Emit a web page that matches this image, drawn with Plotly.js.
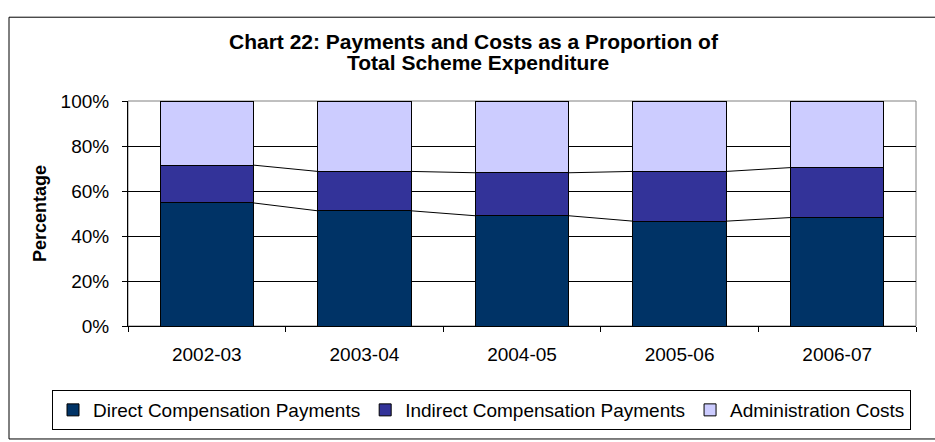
<!DOCTYPE html>
<html>
<head>
<meta charset="utf-8">
<script src="https://cdn.plot.ly/plotly-3.0.1.min.js"></script>
<style>
html,body{margin:0;padding:0;background:#fff;}
#chart{width:935px;height:442px;}
</style>
</head>
<body>
<div id="chart"></div>
<script>
// ---- data ----
var categories = ['2002-03', '2003-04', '2004-05', '2005-06', '2006-07'];
var directPayments = [54.7, 51.2, 49.0, 46.6, 48.2];
var indirectPayments = [16.8, 17.5, 19.1, 22.1, 22.2];
var adminCosts = [28.5, 31.3, 31.9, 31.3, 29.6];
var seriesNames = ['Direct Compensation Payments', 'Indirect Compensation Payments', 'Administration Costs'];
var yTickVals = [0, 20, 40, 60, 80, 100];
var yTickText = ['0%', '20%', '40%', '60%', '80%', '100%'];
var titleLines = ['Chart 22: Payments and Costs as a Proportion of', 'Total Scheme Expenditure'];
var yTitle = 'Percentage';

// ---- layout constants ----
var W = 935, H = 442;
var L = 128, R = 916, T = 101, B = 340;
var pw = R - L, ph = B - T;
function px(x) { return (x - L) / pw; }
function py(y) { return (B - y) / ph; }
var FONT = 'Liberation Sans, Arial, sans-serif';
var barW = 0.593;

var colors = ['#003366', '#333399', '#CCCCFF'];
var seriesVals = [directPayments, indirectPayments, adminCosts];

var traces = [];
for (var s = 0; s < 3; s++) {
  traces.push({
    type: 'bar',
    x: categories,
    y: seriesVals[s],
    name: seriesNames[s],
    width: barW,
    marker: {color: colors[s], line: {color: '#000', width: 1}},
    hoverinfo: 'name+y'
  });
}

// series lines (connect stacked tops between adjacent bars)
function cumulative(k) {
  return categories.map(function (_, i) {
    var t = 0;
    for (var s = 0; s <= k; s++) t += seriesVals[s][i];
    return t;
  });
}
for (var k = 0; k < 2; k++) {
  var tops = cumulative(k);
  for (var i = 0; i < categories.length - 1; i++) {
    traces.push({
      type: 'scatter',
      mode: 'lines',
      xaxis: 'x2',
      x: [i + barW / 2, i + 1 - barW / 2],
      y: [tops[i], tops[i + 1]],
      line: {color: '#000', width: 1},
      showlegend: false,
      hoverinfo: 'skip'
    });
  }
}

var layout = {
  width: W, height: H,
  margin: {l: L, r: W - R, t: T, b: H - B, pad: 0},
  paper_bgcolor: '#fff',
  plot_bgcolor: '#fff',
  barmode: 'stack',
  showlegend: true,
  font: {family: FONT, size: 19, color: '#000'},
  xaxis: {
    type: 'category',
    tickson: 'boundaries',
    ticks: 'outside', ticklen: 5, tickcolor: '#000', tickwidth: 1,
    showline: true, linecolor: '#000', linewidth: 1,
    showgrid: false, zeroline: false,
    ticklabelstandoff: 11,
    tickfont: {family: FONT, size: 19, color: '#000'},
    range: [-0.5, 4.5], fixedrange: true
  },
  xaxis2: {
    overlaying: 'x', range: [-0.5, 4.5], visible: false, fixedrange: true
  },
  yaxis: {
    range: [0, 100],
    tickvals: yTickVals, ticktext: yTickText,
    ticks: 'outside', ticklen: 5, tickcolor: '#000', tickwidth: 1,
    showline: true, linecolor: '#000', linewidth: 1,
    showgrid: true, gridcolor: '#000', gridwidth: 1,
    zeroline: false,
    ticklabelstandoff: 9,
    tickfont: {family: FONT, size: 19, color: '#000'},
    title: {text: yTitle, font: {family: FONT, size: 18, color: '#000', weight: 'bold'}, standoff: 9},
    fixedrange: true
  },
  legend: {
    orientation: 'h',
    x: px(52), xanchor: 'left',
    y: py(408), yanchor: 'top',
    bordercolor: '#000', borderwidth: 1,
    bgcolor: '#fff',
    traceorder: 'normal',
    font: {family: FONT, size: 19, color: '#000'},
    itemwidth: 30
  },
  shapes: [
    // outer chart border
    {type: 'rect', xref: 'paper', yref: 'paper', x0: px(9), x1: px(945), y0: py(12), y1: py(460),
     line: {color: '#000', width: 1}, layer: 'below'},
    // plot area border (top/right)
    {type: 'rect', xref: 'paper', yref: 'paper', x0: 0, x1: 1, y0: 0, y1: 1,
     line: {color: '#808080', width: 1}, layer: 'below'}
  ],
  annotations: [
    {text: titleLines[0], xref: 'paper', yref: 'paper', x: px(474), y: py(38), xanchor: 'center', yanchor: 'middle',
     showarrow: false, font: {family: FONT, size: 21, color: '#000', weight: 'bold'}},
    {text: titleLines[1], xref: 'paper', yref: 'paper', x: px(478), y: py(60), xanchor: 'center', yanchor: 'middle',
     showarrow: false, font: {family: FONT, size: 21, color: '#000', weight: 'bold'}}
  ]
};

Plotly.newPlot('chart', traces, layout, {displayModeBar: false, staticPlot: true});
</script>
</body>
</html>
